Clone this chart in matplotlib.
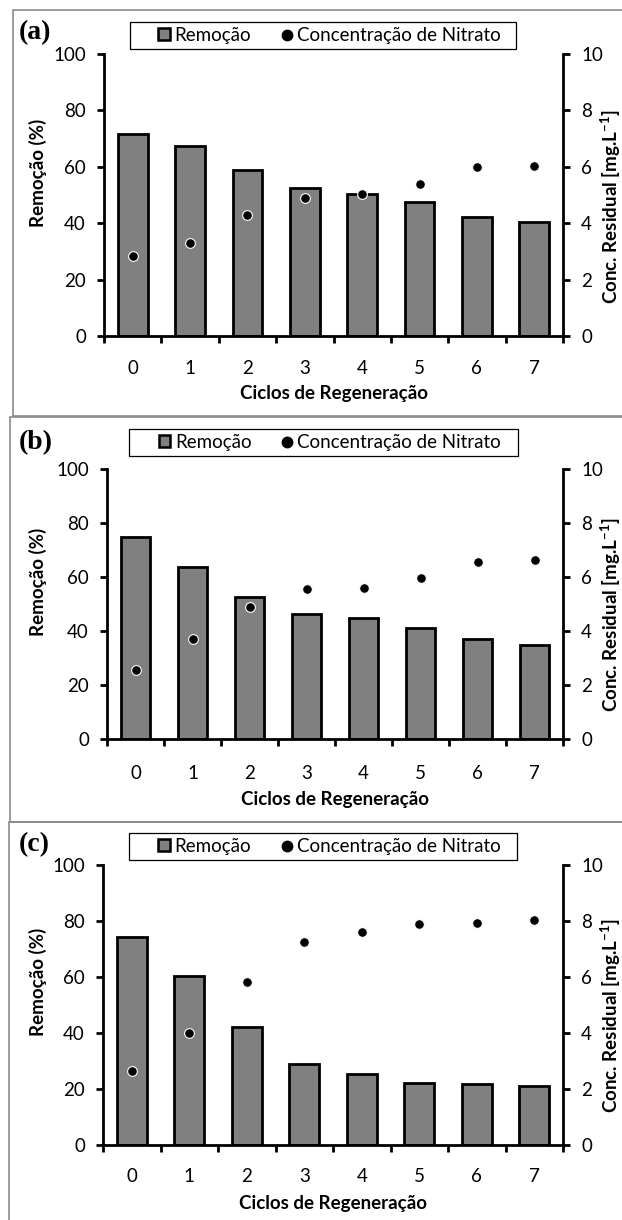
import numpy as np
import matplotlib
matplotlib.use("Agg")
import matplotlib.pyplot as plt
from matplotlib.patches import Rectangle, Patch
from matplotlib.lines import Line2D
from matplotlib.ticker import FixedLocator, NullFormatter

plt.rcParams['font.family'] = ['Lato', 'DejaVu Sans']
plt.rcParams['mathtext.default'] = 'regular'

#data
cycles = [0, 1, 2, 3, 4, 5, 6, 7]
tick_labels = ['0', '1', '2', '3', '4', '5', '6', '7']

rem_a = [71.7, 67.3, 58.7, 52.4, 50.4, 47.4, 42.2, 40.6]
no3_a = [2.84, 3.31, 4.29, 4.91, 5.04, 5.38, 6.00, 6.04]

rem_b = [74.7, 63.7, 52.5, 46.3, 44.8, 40.9, 36.8, 34.8]
no3_b = [2.54, 3.69, 4.88, 5.55, 5.60, 5.96, 6.55, 6.61]

rem_c = [74.1, 60.2, 42.2, 28.9, 25.2, 22.2, 21.8, 21.2]
no3_c = [2.63, 4.00, 5.82, 7.24, 7.61, 7.89, 7.93, 8.03]

W, H = 622, 1220
fig = plt.figure(figsize=(W/100, H/100), dpi=100)

def fx(px):
    return px/W

def fy(py):
    return 1 - py/H

#layout in pixels: frame (left, top, bottom), axes (left, right, top, bottom), legend box (l, r, t, b)
panels = [
    dict(tag='(a)', rem=rem_a, no3=no3_a, frame=(13, 10, 416), axpx=(104, 563, 54, 336),
         legbox=(130, 516, 22, 49), tagxy=(19, 33), xlab=393, ticky=370),
    dict(tag='(b)', rem=rem_b, no3=no3_b, frame=(10, 417, 822), axpx=(107, 563, 468.5, 739),
         legbox=(129, 518, 429, 456), tagxy=(19, 443), xlab=800, ticky=775),
    dict(tag='(c)', rem=rem_c, no3=no3_c, frame=(9, 822, 1222), axpx=(103, 563, 864.5, 1145),
         legbox=(129, 517, 833, 860), tagxy=(19, 845), xlab=1203, ticky=1178),
]

bar_color = '#808080'
lw = 2.0
fs = 13.5

for p in panels:
    l, t, b = p['frame']
    fig.patches.append(Rectangle((fx(l), fy(b)), fx(W + 10 - l), (b - t)/H, transform=fig.transFigure,
                                 fill=False, edgecolor='#8a8a8a', linewidth=1.2))

    x0, x1, y0, y1 = p['axpx']
    ax = fig.add_axes([fx(x0), fy(y1), fx(x1 - x0), (y1 - y0)/H])
    ax2 = ax.twinx()

    ax.bar(cycles, p['rem'], width=0.52, color=bar_color, edgecolor='black', linewidth=lw, zorder=2)
    ax2.plot(cycles, p['no3'], 'o', color='black', markersize=7, markeredgecolor='white',
             markeredgewidth=0.8, zorder=3)

    ax.set_xlim(-0.5, 7.5)
    ax.set_ylim(0, 100)
    ax2.set_ylim(0, 10)
    ax.set_yticks(np.arange(0, 101, 20))
    ax2.set_yticks(np.arange(0, 11, 2))

    # Excel style category axis: marks between categories, labels at centres
    ax.xaxis.set_major_locator(FixedLocator(np.arange(-0.5, 8, 1)))
    ax.xaxis.set_major_formatter(NullFormatter())
    ax.xaxis.set_minor_locator(FixedLocator(cycles))
    ax.set_xticklabels(tick_labels, minor=True)
    pad_x = (p['ticky'] - y1 - 10) * 0.72
    ax.tick_params(axis='x', which='minor', length=0, pad=pad_x, labelsize=fs)
    ax.tick_params(axis='x', which='major', direction='out', length=5, width=lw)
    ax.tick_params(axis='y', direction='out', length=5, width=lw, pad=8, labelsize=fs)
    ax2.tick_params(axis='y', direction='out', length=5, width=lw, pad=8, labelsize=fs)

    for a in (ax, ax2):
        a.spines['top'].set_visible(False)
    ax.spines['right'].set_visible(False)
    ax2.spines['left'].set_visible(False)
    ax2.spines['bottom'].set_visible(False)
    ax.spines['left'].set_linewidth(lw)
    ax.spines['bottom'].set_linewidth(lw)
    ax2.spines['right'].set_linewidth(lw)

    ax.set_xlabel('Ciclos de Regeneração', fontsize=fs, fontweight='bold')
    ax.xaxis.label.set_va('center')
    ax.xaxis.set_label_coords(0.5, (y1 - p['xlab'])/(y1 - y0))
    ax.set_ylabel('Remoção (%)', fontsize=fs, fontweight='bold')
    ax.yaxis.label.set_va('center')
    ax.yaxis.set_label_coords((38 - x0)/(x1 - x0), 0.58)
    ax2.set_ylabel('Conc. Residual [mg.L$^{-1}$]', fontsize=fs, fontweight='bold')
    ax2.yaxis.label.set_va('center')
    ax2.yaxis.set_label_coords((611 - x0)/(x1 - x0), 0.46)

    fig.text(fx(p['tagxy'][0]), fy(p['tagxy'][1]), p['tag'], family='Liberation Serif',
             fontweight='bold', fontsize=20, ha='left', va='center')

    # legend: box drawn separately (behind the axes) so it can match the reference width
    bl, br, bt, bb = p['legbox']
    fig.patches.append(Rectangle((fx(bl), fy(bb)), fx(br - bl), (bb - bt)/H, transform=fig.transFigure,
                                 facecolor='white', edgecolor='black', linewidth=0.9, zorder=-1))
    handles = [Patch(facecolor=bar_color, edgecolor='black', linewidth=1.8),
               Line2D([], [], marker='o', color='black', linestyle='none', markersize=7.5)]
    ax.legend(handles, ['Remoção', 'Concentração de Nitrato'], ncol=2, loc='center',
              bbox_to_anchor=(fx(bl + 35 + (br - bl - 57)/2), fy((bt + bb)/2)), bbox_transform=fig.transFigure,
              fontsize=13.5, frameon=False, borderpad=0, handlelength=0.6, handleheight=0.6,
              handletextpad=0.25, columnspacing=1.6, borderaxespad=0)

fig.savefig('out.png', dpi=100)
